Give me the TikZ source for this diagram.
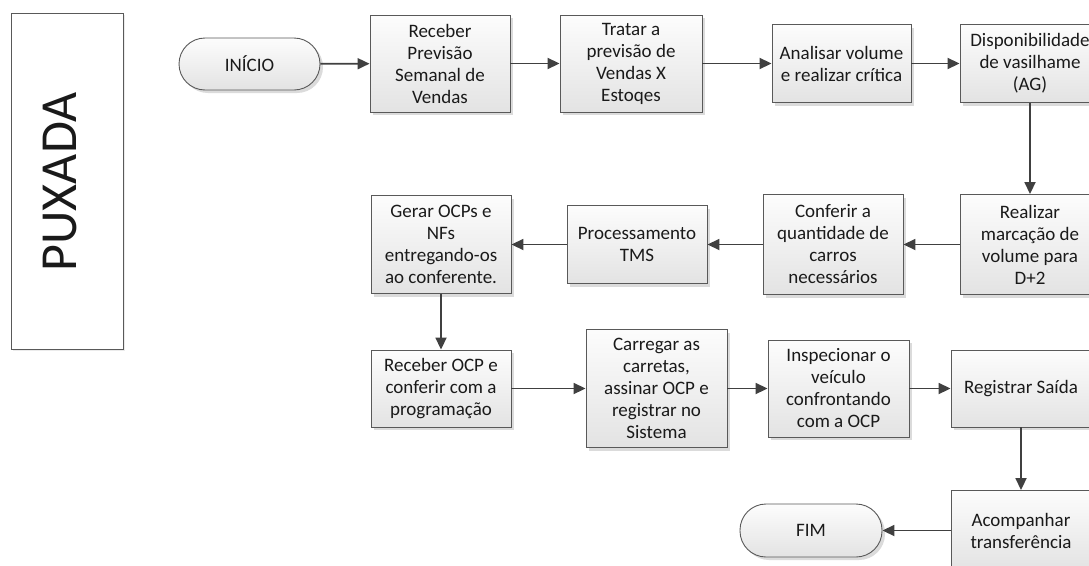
\documentclass[tikz,border=0pt]{standalone}
\usepackage{fontspec}
\setmainfont{Carlito}
\usetikzlibrary{arrows.meta,shadows}
\definecolor{edgegray}{HTML}{595959}
\definecolor{arrowgray}{HTML}{404040}
\definecolor{txt}{HTML}{1A1A1A}
\tikzset{
  stepbox/.style={draw=edgegray, line width=0.9pt, top color=black!1, bottom color=black!11,
    general shadow={shadow xshift=3pt, shadow yshift=-3pt, fill=black!14},
    align=center, text=txt, inner sep=2pt, font=\fontsize{19}{22}\selectfont},
  term/.style={stepbox, rounded corners=26pt},
  flow/.style={draw=arrowgray, line width=1.8pt, -{Triangle[length=12pt,width=11pt]}},
  lane/.style={draw=edgegray, line width=0.8pt, fill=white,
    general shadow={shadow xshift=2pt, shadow yshift=-2pt, fill=black!8}},
}
\begin{document}
\begin{tikzpicture}[x=1pt,y=-1pt]
\useasboundingbox (0,0) rectangle (1089,565);
\clip (0,0) rectangle (1089,565);
\fill[white] (0,0) rectangle (1089,565);

% lane label
\node[lane, minimum width=112pt, minimum height=336pt] (lanebox) at (67,181) {};
\node[rotate=90, text=txt, font=\fontsize{52}{60}\selectfont] (lanename) at (60,182) {PUXADA};

% terminals
\node[term, minimum width=141pt, minimum height=52pt] (inicio) at (249.5,64) {INÍCIO};
\node[term, minimum width=142pt, minimum height=53pt] (fim) at (811,530.5) {FIM};

% first row
\node[stepbox, minimum width=140pt, minimum height=97pt] (receber) at (440,63.5) {Receber\\Previsão\\Semanal de\\Vendas};
\node[stepbox, minimum width=142pt, minimum height=97pt] (tratar) at (631,63.5) {Tratar a\\previsão de\\Vendas X\\Estoqes};
\node[stepbox, minimum width=139pt, minimum height=78pt] (analisar) at (841.5,63.5) {Analisar volume\\e realizar crítica};
\node[stepbox, minimum width=140pt, minimum height=78pt] (dispon) at (1030,63.5) {Disponibilidade\\de vasilhame\\(AG)};

% second row
\node[stepbox, minimum width=140pt, minimum height=100pt] (realizar) at (1030,244.5) {Realizar\\marcação de\\volume para\\D+2};
\node[stepbox, minimum width=140pt, minimum height=100pt] (conferir) at (833,244.5) {Conferir a\\quantidade de\\carros\\necessários};
\node[stepbox, minimum width=140pt, minimum height=78pt] (tms) at (637,244.5) {Processamento\\TMS};
\node[stepbox, minimum width=140pt, minimum height=98pt] (gerar) at (441,244.5) {Gerar OCPs e\\NFs\\entregando-os\\ao conferente.};

% third row
\node[stepbox, minimum width=140pt, minimum height=77pt] (recocp) at (441,388.5) {Receber OCP e\\conferir com a\\programação};
\node[stepbox, minimum width=141pt, minimum height=118pt] (carregar) at (656.5,388.5) {Carregar as\\carretas,\\assinar OCP e\\registrar no\\Sistema};
\node[stepbox, minimum width=141pt, minimum height=97pt] (inspec) at (838.5,388.5) {Inspecionar o\\veículo\\confrontando\\com a OCP};
\node[stepbox, minimum width=140pt, minimum height=77pt] (registrar) at (1021,388.5) {Registrar Saída};
\node[stepbox, minimum width=140pt, minimum height=80pt] (acomp) at (1021,530.5) {Acompanhar\\transferência};

% connectors
\draw[flow] (inicio) -- (receber);
\draw[flow] (receber) -- (tratar);
\draw[flow] (tratar) -- (analisar);
\draw[flow] (analisar) -- (dispon);
\draw[flow] (dispon) -- (realizar);
\draw[flow] (realizar) -- (conferir);
\draw[flow] (conferir) -- (tms);
\draw[flow] (tms) -- (gerar);
\draw[flow] (gerar) -- (recocp);
\draw[flow] (recocp) -- (carregar);
\draw[flow] (carregar) -- (inspec);
\draw[flow] (inspec) -- (registrar);
\draw[flow] (registrar) -- (acomp);
\draw[flow] (acomp) -- (fim);
\end{tikzpicture}
\end{document}
